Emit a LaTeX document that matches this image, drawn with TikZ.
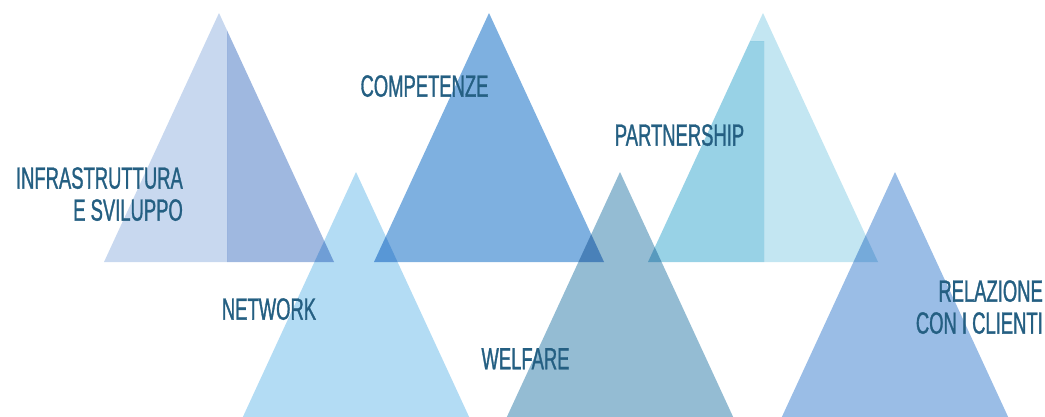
\documentclass[tikz,border=0pt]{standalone}
\usepackage{fontspec}
\setmainfont[FakeStretch=0.6, FakeBold=1]{Liberation Sans}
\usepackage{tikz}

\definecolor{infralight}{HTML}{C8D8EF}
\definecolor{infradark}{HTML}{9FB8E0}
\definecolor{compblue}{HTML}{7EB0E0}
\definecolor{partlight}{HTML}{C3E6F2}
\definecolor{partdark}{HTML}{98D2E6}
\definecolor{netblue}{HTML}{B3DCF4}
\definecolor{welfblue}{HTML}{94BCD3}
\definecolor{relblue}{HTML}{9ABDE6}
\definecolor{textblue}{HTML}{245F82}

\tikzset{
  lbl/.style={text=textblue, inner sep=0pt, font=\fontsize{30.7}{32}\selectfont},
}

\begin{document}
\begin{tikzpicture}[x=1pt, y=-1pt]
    \useasboundingbox (0,0) rectangle (1045,416);

    \coordinate (TopL) at (219, 13);
    \coordinate (TopLl) at (104, 262);
    \coordinate (TopLr) at (334, 262);
    \coordinate (TopLs) at (227, 30.3);
    \coordinate (TopLc) at (227, 262);

    \coordinate (TopM) at (489, 13);
    \coordinate (TopMl) at (374, 262);
    \coordinate (TopMr) at (604, 262);

    \coordinate (TopR) at (763, 13);
    \coordinate (TopRl) at (648, 262);
    \coordinate (TopRr) at (878, 262);
    \coordinate (TopRe) at (750.1, 41);
    \coordinate (TopRs) at (764, 41);
    \coordinate (TopRc) at (764, 262);

    \coordinate (BotL) at (356, 172);
    \coordinate (BotLl) at (241, 421);
    \coordinate (BotLr) at (471, 421);

    \coordinate (BotM) at (620, 172);
    \coordinate (BotMl) at (505, 421);
    \coordinate (BotMr) at (735, 421);

    \coordinate (BotR) at (895, 172);
    \coordinate (BotRl) at (780, 421);
    \coordinate (BotRr) at (1010, 421);

    \begin{scope}[blend mode=multiply]
    \clip (0,0) rectangle (1045,416);
    \fill[infralight] (TopLl) -- (TopL) -- (TopLs) -- (TopLc) -- cycle;
    \fill[infradark] (TopLs) -- (TopLr) -- (TopLc) -- cycle;
    \fill[compblue] (TopMl) -- (TopM) -- (TopMr) -- cycle;
    \fill[partdark] (TopRl) -- (TopRe) -- (TopRs) -- (TopRc) -- cycle;
    \fill[partlight] (TopRe) -- (TopR) -- (TopRr) -- (TopRc) -- (TopRs) -- cycle;
    \fill[netblue] (BotLl) -- (BotL) -- (BotLr) -- cycle;
    \fill[welfblue] (BotMl) -- (BotM) -- (BotMr) -- cycle;
    \fill[relblue] (BotRl) -- (BotR) -- (BotRr) -- cycle;
    \end{scope}

    \node[lbl, anchor=north east, align=right] (infra) at (183, 167) {INFRASTRUTTURA\\E SVILUPPO};
    \node[lbl, anchor=north] (comp) at (424.5, 75) {COMPETENZE};
    \node[lbl, anchor=north] (part) at (679.5, 124) {PARTNERSHIP};
    \node[lbl, anchor=north] (net) at (269, 298) {NETWORK};
    \node[lbl, anchor=north] (welf) at (525.5, 348) {WELFARE};
    \node[lbl, anchor=north east, align=right] (rel) at (1043, 280) {RELAZIONE\\CON I CLIENTI};
  \end{tikzpicture}
\end{document}
